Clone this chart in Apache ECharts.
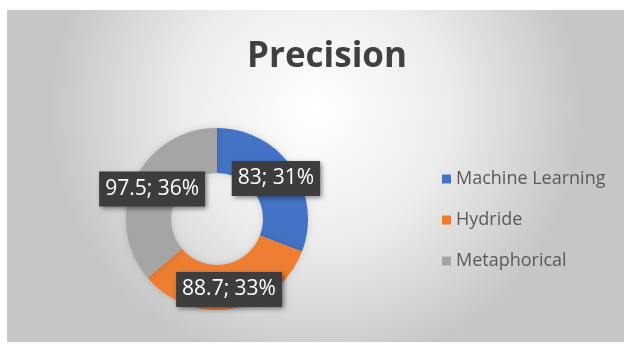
<!DOCTYPE html>
<html><head><meta charset="utf-8">
<script src="https://cdn.jsdelivr.net/npm/echarts@6/dist/echarts.min.js"></script>
<style>html,body{margin:0;padding:0;background:#fff}#c{width:631px;height:346px}</style>
</head><body><div id="c"></div>
<script>
const categories = ['Machine Learning', 'Hydride', 'Metaphorical'];
const values = [83, 88.7, 97.5];
const colors = ['#4472C4', '#ED7D31', '#A5A5A5'];

const total = values.reduce((a, b) => a + b, 0);
const chart = echarts.init(document.getElementById('c'), null, {renderer: 'canvas'});
chart.setOption({
  backgroundColor: '#ffffff',
  animation: false,
  graphic: [{
    type: 'rect', z: -10, silent: true,
    shape: {x: 7, y: 10, width: 617, height: 332},
    style: {
      fill: new echarts.graphic.RadialGradient(0.5, 0.3, 0.8, [
        {offset: 0, color: '#ffffff'},
        {offset: 0.5, color: '#ececec'},
        {offset: 1, color: '#c6c6c6'}
      ])
    }
  }],
  title: {
    text: 'Precision', left: 322, top: 35, textAlign: 'center',
    textStyle: {fontFamily: 'Open Sans', fontWeight: 'bold', fontSize: 35, color: '#404040'}
  },
  legend: {
    orient: 'vertical', left: 437, top: 165, itemGap: 23,
    itemWidth: 9, itemHeight: 9, icon: 'rect',
    textStyle: {fontFamily: 'Open Sans', fontSize: 18, color: '#595959'},
    data: categories
  },
  series: [{
    type: 'pie', center: [217, 219], radius: [46, 91],
    startAngle: 90, clockwise: true,
    label: {
      show: true, position: 'inside',
      formatter: p => p.value + '; ' + Math.round(p.value / total * 100) + '%',
      fontFamily: 'Open Sans', fontSize: 21, lineHeight: 22, color: '#ffffff',
      backgroundColor: '#3d3d3d', padding: [7, 6, 6, 6],
      shadowColor: 'rgba(0,0,0,0.5)', shadowBlur: 5, shadowOffsetX: 2, shadowOffsetY: 2
    },
    labelLine: {show: false},
    itemStyle: {borderWidth: 0, shadowColor: 'rgba(0,0,0,0.15)', shadowBlur: 6},
    emphasis: {disabled: true},
    data: categories.map((n, i) => ({name: n, value: values[i], itemStyle: {color: colors[i]}}))
  }]
});
</script></body></html>
